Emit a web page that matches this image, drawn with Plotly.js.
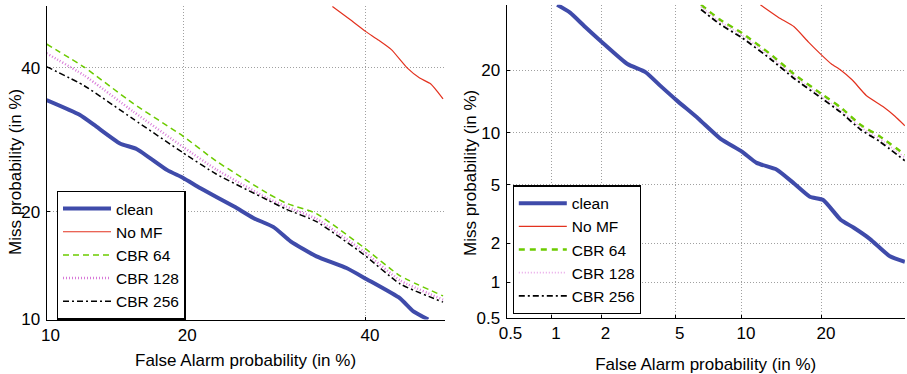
<!DOCTYPE html>
<html>
<head>
<meta charset="utf-8">
<script src="https://cdn.plot.ly/plotly-3.0.1.min.js"></script>
<style>html,body{margin:0;padding:0;background:#fff}#chart{width:907px;height:374px}</style>
</head>
<body>
<div id="chart"></div>
<script>
// ---------- data (percent) ----------
// Left panel
const faCleanL  = [10, 12, 13.1, 14.8, 16.1, 18.6, 20, 21.6, 24.9, 26.9, 29.1, 31.0, 34.0, 37.6, 40.1, 44.3, 46, 47.9];
const missCleanL= [35.0, 32.8, 31.1, 28.7, 27.9, 25.1, 24.1, 22.8, 20.6, 19.3, 18.3, 16.8, 15.3, 14.2, 13.2, 11.6, 10.6, 10.0];
const faNoMFL   = [35.9, 38, 40, 41.5, 43.2, 45.2, 46.8, 48.2, 49.8];
const missNoMFL = [49.9, 47.8, 45.8, 44.5, 42.9, 40, 38.4, 37.5, 35.2];
const faCbrL    = [10, 12.3, 15.8, 20, 23.1, 28.4, 30.5, 34, 39.7, 44.3, 49.8];
const missCbr64L  = [43.8, 40.1, 34.5, 29.7, 26.3, 22.2, 21.0, 19.8, 16.2, 13.5, 11.8];
const missCbr128L = [42.3, 38.8, 33.3, 28.2, 25.2, 21.6, 20.6, 19.2, 15.8, 13.1, 11.5];
const missCbr256L = [40.2, 37.2, 32.2, 27.4, 24.6, 21.4, 20.3, 18.9, 15.5, 12.8, 11.3];
// Right panel
const faCleanR  = [1.08, 1.3, 1.6, 2, 2.8, 3.5, 4.2, 5.05, 6.4, 8.1, 10, 11.5, 13.8, 16, 18.2, 20.2, 23, 25.2, 28.2, 32, 35];
const missCleanR= [35, 33, 29.5, 26, 21.2, 19.6, 17, 14.6, 11.9, 9.3, 7.9, 6.8, 6.2, 5.1, 4.2, 4.0, 2.95, 2.6, 2.15, 1.6, 1.45];
const faNoMFR   = [11.9, 14, 16, 18, 20, 21.5, 23, 25, 27.5, 30.7, 33, 35];
const missNoMFR = [35, 31.8, 29.5, 25.9, 23, 21.2, 20, 18.1, 15.4, 13.6, 12.2, 10.9];
const faCbrR    = [6.6, 8, 10, 13, 16, 20, 23, 26.5, 30, 35];
const missCbr64R  = [35, 31.3, 28, 23.3, 19.2, 15.6, 13.5, 11.0, 9.6, 7.6];
const missCbr128R = [34.5, 30.8, 27.5, 22.8, 18.8, 15.2, 13.1, 10.7, 9.3, 7.3];
const missCbr256R = [33.8, 30.2, 26.9, 22.3, 18.4, 14.9, 12.8, 10.4, 9.0, 7.0];
// ticks
const ticksL = [10, 20, 40];
const ticksR = [0.5, 1, 2, 5, 10, 20];
const rangeL = [10, 50];
const rangeR = [0.5, 35];
const names = ['clean', 'No MF', 'CBR 64', 'CBR 128', 'CBR 256'];

// ---------- normal deviate (DET) scale ----------
function probit(p){
  const a=[-3.969683028665376e+01,2.209460984245205e+02,-2.759285104469687e+02,1.383577518672690e+02,-3.066479806614716e+01,2.506628277459239e+00];
  const b=[-5.447609879822406e+01,1.615858368580409e+02,-1.556989798598866e+02,6.680131188771972e+01,-1.328068155288572e+01];
  const c=[-7.784894002430293e-03,-3.223964580411365e-01,-2.400758277161838e+00,-2.549671010434818e+00,4.374664141464968e+00,2.938163982698783e+00];
  const d=[7.784695709041462e-03,3.224671290700398e-01,2.445134137142996e+00,3.754408661907416e+00];
  const plow=0.02425, phigh=1-plow;
  let q,r;
  if(p<plow){q=Math.sqrt(-2*Math.log(p));return (((((c[0]*q+c[1])*q+c[2])*q+c[3])*q+c[4])*q+c[5])/((((d[0]*q+d[1])*q+d[2])*q+d[3])*q+1);}
  if(p<=phigh){q=p-0.5;r=q*q;return (((((a[0]*r+a[1])*r+a[2])*r+a[3])*r+a[4])*r+a[5])*q/(((((b[0]*r+b[1])*r+b[2])*r+b[3])*r+b[4])*r+1);}
  q=Math.sqrt(-2*Math.log(1-p));return -(((((c[0]*q+c[1])*q+c[2])*q+c[3])*q+c[4])*q+c[5])/((((d[0]*q+d[1])*q+d[2])*q+d[3])*q+1);
}
const P = arr => arr.map(v => probit(v/100));

const styles = [
  {color:'#3F4BAA', width:4, dash:'solid', shape:'spline'},
  {color:'#E3321F', width:1.2, dash:'solid', shape:'spline'},
  {color:'#6CCB00', width:1.5, dash:'6px,4px', shape:'spline'},
  {color:'#D87AD8', width:2.5, dash:'1px,2px', shape:'spline'},
  {color:'#000000', width:1.5, dash:'6px,3px,2px,3px', shape:'spline'}
];
const stylesR = [
  {color:'#3F4BAA', width:4, dash:'solid', shape:'spline'},
  {color:'#E3321F', width:1.2, dash:'solid', shape:'spline'},
  {color:'#6CCB00', width:2.5, dash:'6px,5px', shape:'spline'},
  {color:'#E8A6E8', width:1.8, dash:'1px,2px', shape:'spline'},
  {color:'#000000', width:1.8, dash:'6px,3px,2px,3px', shape:'spline'}
];

function tr(x, y, i, side){
  const st = side==='L' ? styles[i] : stylesR[i];
  return {
    x: P(x), y: P(y), customdata: x.map((v,k)=>[v, y[k]]),
    hovertemplate: names[i]+': FA %{customdata[0]}%, Miss %{customdata[1]}%<extra></extra>',
    type:'scatter', mode:'lines', name: names[i],
    line:{color:st.color, width:st.width, dash:st.dash, shape:st.shape, smoothing:0.5},
    xaxis: side==='L'?'x':'x2', yaxis: side==='L'?'y':'y2',
    legend: side==='L'?'legend':'legend2'
  };
}
const data = [
  tr(faCleanL, missCleanL, 0, 'L'),
  tr(faNoMFL, missNoMFL, 1, 'L'),
  tr(faCbrL, missCbr64L, 2, 'L'),
  tr(faCbrL, missCbr128L, 3, 'L'),
  tr(faCbrL, missCbr256L, 4, 'L'),
  tr(faCleanR, missCleanR, 0, 'R'),
  tr(faNoMFR, missNoMFR, 1, 'R'),
  tr(faCbrR, missCbr64R, 2, 'R'),
  tr(faCbrR, missCbr128R, 3, 'R'),
  tr(faCbrR, missCbr256R, 4, 'R')
];

const FONT = 'Liberation Sans, Arial, sans-serif';
function ax(ticks, range, domain, extra){
  return Object.assign({
    range: P(range), domain: domain,
    tickvals: P(ticks), ticktext: ticks.map(String),
    showline:true, linecolor:'#000', linewidth:1,
    ticks:'inside', ticklen:3, tickcolor:'#000',
    showgrid:true, gridcolor:'#a0a0a0', griddash:'1px,2px', gridwidth:1,
    zeroline:false, tickfont:{family:FONT, size:17, color:'#000'},
    fixedrange:true
  }, extra||{});
}
const W=907, H=374;
const LEGFONT = {family:FONT, size:15.5, color:'#000'};
const layout = {
  width:W, height:H, margin:{l:0,r:0,t:0,b:0},
  paper_bgcolor:'#fff', plot_bgcolor:'#fff',
  font:{family:FONT, size:17, color:'#000'},
  showlegend:true,
  xaxis: ax(ticksL, rangeL, [46.5/W, 444.6/W], {anchor:'y', ticklabelshift:4,
    title:{text:'False Alarm probability (in %)', font:{family:FONT,size:17}, standoff:10}}),
  yaxis: ax(ticksL, rangeL, [1-319.5/H, 1-5.8/H], {anchor:'x', ticklabelstandoff:2}),
  xaxis2: ax(ticksR, rangeR, [506.5/W, 904.9/W], {anchor:'y2', ticklabelshift:4,
    title:{text:'False Alarm probability (in %)', font:{family:FONT,size:17}, standoff:16}}),
  yaxis2: ax(ticksR, rangeR, [1-318/H, 1-4.8/H], {anchor:'x2', ticklabelstandoff:2}),
  legend:{x:56.7/W, y:1-190.7/H, xanchor:'left', yanchor:'top', bgcolor:'#fff',
    bordercolor:'#000', borderwidth:1.3, font:LEGFONT, tracegroupgap:0, itemwidth:48},
  legend2:{x:512.5/W, y:1-185.3/H, xanchor:'left', yanchor:'top', bgcolor:'#fff',
    bordercolor:'#000', borderwidth:1.3, font:LEGFONT, tracegroupgap:0, itemwidth:48},
  annotations:[
    {text:'Miss probability (in %)', xref:'paper', yref:'paper', x:15/W, y:1-172/H,
     xanchor:'center', yanchor:'middle', textangle:-90, showarrow:false, font:{family:FONT,size:17}},
    {text:'Miss probability (in %)', xref:'paper', yref:'paper', x:470/W, y:1-173/H,
     xanchor:'center', yanchor:'middle', textangle:-90, showarrow:false, font:{family:FONT,size:17}}
  ]
};
Plotly.newPlot('chart', data, layout, {displayModeBar:false, staticPlot:true});
</script>
</body>
</html>
